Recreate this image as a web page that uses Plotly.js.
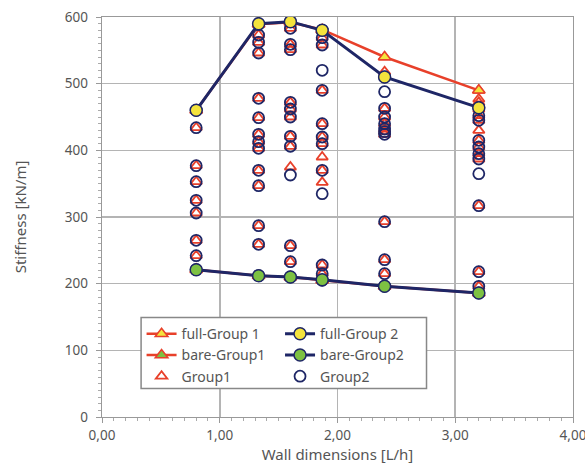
<!DOCTYPE html>
<html>
<head>
<meta charset="utf-8">
<script src="https://cdn.plot.ly/plotly-3.0.1.min.js"></script>
<style>html,body{margin:0;padding:0;background:#fff;}#chart{width:585px;height:469px;}</style>
</head>
<body>
<div id="chart"></div>
<script>
// Wall dimension categories (L/h)
const xPos = [0.8, 1.33, 1.6, 1.87, 2.4, 3.2];

// Individual values per column
const group1 = [
  [460, 434, 377, 353, 325, 306, 265, 242, 222],
  [589, 573, 562, 546, 478, 449, 424, 413, 403, 370, 347, 287, 259, 212],
  [592, 583, 559, 551, 472, 462, 450, 421, 406, 375, 257, 233, 210],
  [580, 569, 558, 490, 440, 420, 410, 390, 370, 352, 228, 215, 205],
  [540, 518, 463, 450, 440, 432, 428, 424, 293, 236, 215, 196],
  [490, 477, 472, 462, 452, 445, 430, 415, 405, 395, 387, 317, 218, 196, 186]
];
const group2 = [
  [460, 434, 377, 353, 325, 306, 265, 242, 221],
  [589, 573, 562, 546, 478, 449, 424, 413, 403, 370, 347, 287, 259, 212],
  [593, 583, 559, 551, 472, 462, 450, 421, 406, 363, 257, 233, 210],
  [580, 569, 558, 520, 490, 440, 420, 410, 370, 335, 228, 215, 205],
  [510, 488, 463, 450, 440, 432, 428, 424, 293, 236, 215, 196],
  [464, 452, 445, 415, 405, 395, 387, 365, 317, 218, 196, 186]
];

const fullGroup1 = [460, 589, 592, 581, 540, 490];
const fullGroup2 = [460, 590, 593, 580, 510, 464];
const bareGroup1 = [221, 212, 210, 205, 196, 186];
const bareGroup2 = [221, 212, 210, 206, 196, 186];

const xTicks = [0, 1, 2, 3, 4];
const yTicks = [0, 100, 200, 300, 400, 500, 600];

function flatten(groups) {
  const xs = [], ys = [];
  groups.forEach((col, i) => col.forEach(v => { xs.push(xPos[i]); ys.push(v); }));
  return {xs, ys};
}
const g1 = flatten(group1), g2 = flatten(group2);

const RED = '#e8402a', NAVY = '#1e2666', YELLOW = '#f4e33c', GREEN = '#7dc142';
const GRID = '#b4b4b4';

const traces = [
  {x: g1.xs, y: g1.ys, name: 'Group1', mode: 'markers', legend: 'legend', legendrank: 3,
   marker: {symbol: 'triangle-up-open', size: 10, color: RED, line: {width: 1.8, color: RED}}},
  {x: g2.xs, y: g2.ys, name: 'Group2', mode: 'markers', legend: 'legend2', legendrank: 3,
   marker: {symbol: 'circle-open', size: 11, color: NAVY, line: {width: 1.8, color: NAVY}}},
  {x: xPos, y: fullGroup1, name: 'full-Group 1', mode: 'lines+markers', legend: 'legend', legendrank: 1,
   line: {color: RED, width: 2.5},
   marker: {symbol: 'triangle-up', size: 11, color: YELLOW, line: {width: 1.5, color: RED}}},
  {x: xPos, y: bareGroup1, name: 'bare-Group1', mode: 'lines+markers', legend: 'legend', legendrank: 2,
   line: {color: RED, width: 2.5},
   marker: {symbol: 'triangle-up', size: 11, color: GREEN, line: {width: 1.5, color: RED}}},
  {x: xPos, y: fullGroup2, name: 'full-Group 2', mode: 'lines+markers', legend: 'legend2', legendrank: 1,
   line: {color: NAVY, width: 3},
   marker: {symbol: 'circle', size: 12, color: YELLOW, line: {width: 1.5, color: NAVY}}},
  {x: xPos, y: bareGroup2, name: 'bare-Group2', mode: 'lines+markers', legend: 'legend2', legendrank: 2,
   line: {color: NAVY, width: 3},
   marker: {symbol: 'circle', size: 12, color: GREEN, line: {width: 1.5, color: NAVY}}}
];

const FONT = {family: 'Noto Sans, sans-serif', size: 13, color: '#555'};

const layout = {
  width: 585, height: 469,
  margin: {l: 101.5, r: 12, t: 17, b: 52},
  paper_bgcolor: '#fff', plot_bgcolor: '#fff',
  separators: ', ',
  font: FONT,
  showlegend: true,
  xaxis: {
    range: [0, 4], tickvals: xTicks, tickformat: '.2f', ticklabeloverflow: 'allow',
    showgrid: true, gridcolor: GRID, gridwidth: 1.6, zeroline: false,
    showline: true, linecolor: '#999', linewidth: 1.3, mirror: true,
    ticks: 'outside', ticklen: 5, tickcolor: '#999',
    minor: {dtick: 0.1, ticks: 'outside', ticklen: 3, tickcolor: '#aaa', showgrid: false},
    tickfont: {family: FONT.family, size: 13.5, color: '#555'},
    title: {text: 'Wall dimensions [L/h]', font: {family: FONT.family, size: 15, color: '#555'}, standoff: 7}
  },
  yaxis: {
    range: [0, 600], tickvals: yTicks, ticklabeloverflow: 'allow',
    showgrid: true, gridcolor: GRID, gridwidth: 1.6, zeroline: false,
    showline: true, linecolor: '#999', linewidth: 1.3, mirror: true,
    ticks: 'outside', ticklen: 5, tickcolor: '#999', ticklabelstandoff: 5,
    minor: {dtick: 10, ticks: 'outside', ticklen: 3, tickcolor: '#aaa', showgrid: false},
    tickfont: {family: FONT.family, size: 13.5, color: '#555'},
    title: {text: 'Stiffness [kN/m]', font: {family: FONT.family, size: 15, color: '#555'}, standoff: 34}
  },
  legend: {x: 0.084, xanchor: 'left', y: 0.247, yanchor: 'top', bgcolor: 'rgba(0,0,0,0)', borderwidth: 0,
           font: {family: FONT.family, size: 14, color: '#555'}, tracegroupgap: 0},
  legend2: {x: 0.378, xanchor: 'left', y: 0.247, yanchor: 'top', bgcolor: 'rgba(0,0,0,0)', borderwidth: 0,
           font: {family: FONT.family, size: 14, color: '#555'}, tracegroupgap: 0},
  shapes: [{type: 'rect', xref: 'paper', yref: 'paper', x0: 0.083, x1: 0.689, y0: 0.071, y1: 0.2485,
            line: {color: '#888', width: 1.5}, fillcolor: '#fff', layer: 'above'}]
};

Plotly.newPlot('chart', traces, layout, {displayModeBar: false, staticPlot: true});
</script>
</body>
</html>
